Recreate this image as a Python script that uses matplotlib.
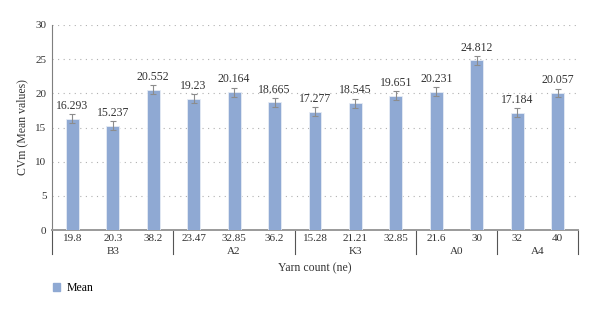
import matplotlib
matplotlib.use("Agg")
import matplotlib.pyplot as plt
import matplotlib.transforms as mtransforms
from matplotlib.patches import Patch

# Data
yarn_counts = ["19.8", "20.3", "38.2", "23.47", "32.85", "36.2",
               "15.28", "21.21", "32.85", "21.6", "30", "32", "40"]
groups = ["B3", "A2", "K3", "A0", "A4"]
group_sizes = [3, 3, 3, 2, 2]
mean_values = [16.293, 15.237, 20.552, 19.23, 20.164, 18.665,
               17.277, 18.545, 19.651, 20.231, 24.812, 17.184, 20.057]
errors = [0.65] * len(mean_values)

BAR_COLOR = "#8FA9D3"
TEXT_COLOR = "#333333"

plt.rcParams["font.family"] = ["Liberation Serif", "DejaVu Serif"]

fig = plt.figure(figsize=(6.0, 3.13), dpi=100)
ax = fig.add_axes([52 / 600, 1 - 230 / 313, 526 / 600, 205 / 313])

x = list(range(len(mean_values)))
ax.bar(x, mean_values, width=0.32, color=BAR_COLOR, edgecolor="#E6ECF5", linewidth=0.6,
       yerr=errors, error_kw=dict(ecolor="#8C8C8C", elinewidth=0.8, capsize=2.5, capthick=0.8),
       zorder=3)

for xi, v, e in zip(x, mean_values, errors):
    ax.text(xi, v + e + 0.35, f"{v:g}", ha="center", va="bottom", fontsize=8.5, color=TEXT_COLOR)

ax.set_xlim(-0.5, len(mean_values) - 0.5)
ax.set_ylim(0, 30)
ax.set_yticks(range(0, 31, 5))
ax.tick_params(axis="y", length=0, labelsize=8, colors=TEXT_COLOR, pad=4)
ax.set_xticks(x)
ax.set_xticklabels(yarn_counts)
ax.tick_params(axis="x", length=0, labelsize=8, colors=TEXT_COLOR, pad=3)

ax.grid(axis="y", linestyle=(0, (1, 4)), color="#B0B0B0", linewidth=0.8, zorder=0)
for s in ["top", "right"]:
    ax.spines[s].set_visible(False)
ax.spines["left"].set_color("#7F7F7F")
ax.spines["left"].set_linewidth(0.8)
ax.spines["bottom"].set_color("#9A9A9A")
ax.spines["bottom"].set_linewidth(1.4)

ax.set_ylabel("CVm (Mean values)", fontsize=8.5, color=TEXT_COLOR, labelpad=5)

# Grouped category axis
trans = mtransforms.blended_transform_factory(ax.transData, ax.transAxes)
start = -0.5
ax.plot([start, start], [0, -0.115], transform=trans, color="#555555", lw=0.8, clip_on=False)
for g, n in zip(groups, group_sizes):
    end = start + n
    ax.plot([end, end], [0, -0.115], transform=trans, color="#555555", lw=0.8, clip_on=False)
    ax.text((start + end) / 2, -0.082, g, transform=trans, ha="center", va="top",
            fontsize=8, color=TEXT_COLOR)
    start = end

ax.text(0.5, -0.158, "Yarn count (ne)", transform=ax.transAxes, ha="center", va="top",
        fontsize=8.5, color=TEXT_COLOR)

fig.legend(handles=[Patch(color=BAR_COLOR, label="Mean")], loc="center left",
           bbox_to_anchor=(42 / 600, 1 - 288 / 313), frameon=False, fontsize=8.5,
           handlelength=0.6, handleheight=0.6, handletextpad=0.6)

fig.savefig("out.png", dpi=100)
